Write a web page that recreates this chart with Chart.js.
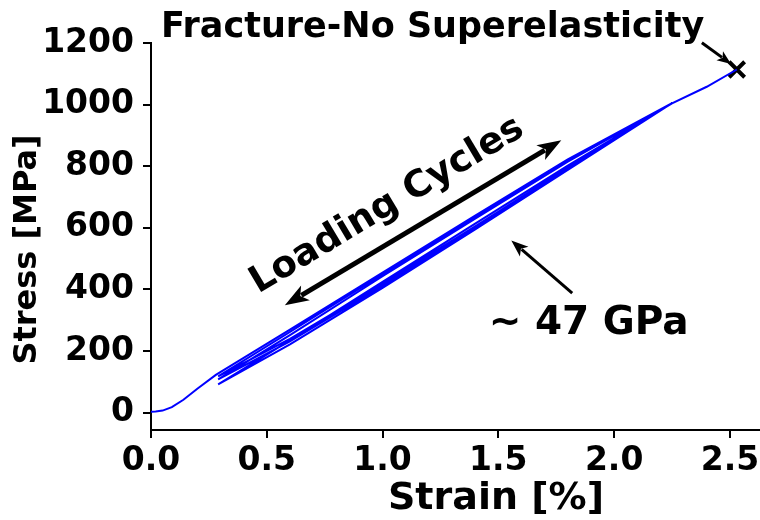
<!DOCTYPE html>
<html>
<head>
<meta charset="utf-8">
<script src="https://cdn.jsdelivr.net/npm/chart.js@4"></script>
<style>
  html, body { margin: 0; padding: 0; background: #fff; overflow: hidden; }
  #wrap { position: relative; width: 760px; height: 520px; }
  canvas { display: block; }
</style>
</head>
<body>
<div id="wrap"><canvas id="myChart"></canvas></div>
<script>
"use strict";

// cyclic loading path (strain %, stress MPa)
const strain = [0, 0.02, 0.05, 0.09, 0.14, 0.2, 0.28, 0.6, 1.0, 1.4, 1.8, 2.25,
    1.8, 1.4, 1.0, 0.6, 0.29,
    0.6, 1.0, 1.4, 1.8, 2.25,
    1.8, 1.4, 1.0, 0.6, 0.29,
    0.6, 1.0, 1.4, 1.8, 2.25,
    1.8, 1.4, 1.0, 0.6, 0.29,
    0.6, 1.0, 1.4, 1.8, 2.25, 2.4, 2.53];
const stress = [3, 4, 7, 18, 42, 78, 123, 270, 455, 640, 822, 1005,
    795, 605, 418, 240, 118,
    262, 450, 636, 818, 1005,
    792, 600, 412, 232, 108,
    252, 443, 630, 815, 1005,
    788, 595, 405, 222, 92,
    235, 425, 614, 802, 1004, 1058, 1114];
const fractureStrain = [2.53];
const fractureStress = [1114];
const xTicks = [0, 0.5, 1.0, 1.5, 2.0, 2.5];
const yTicks = [0, 200, 400, 600, 800, 1000, 1200];

const FONT = 'DejaVu Sans';

function drawArrow(ctx, x1, y1, x2, y2, lw, hl, hw, both) {
    let a = Math.atan2(y2 - y1, x2 - x1);
    ctx.save();
    ctx.strokeStyle = '#000';
    ctx.fillStyle = '#000';
    ctx.lineWidth = lw;
    ctx.beginPath();
    let sx = both ? x1 + Math.cos(a) * hl * 0.8 : x1;
    let sy = both ? y1 + Math.sin(a) * hl * 0.8 : y1;
    ctx.moveTo(sx, sy);
    ctx.lineTo(x2 - Math.cos(a) * hl * 0.8, y2 - Math.sin(a) * hl * 0.8);
    ctx.stroke();
    let head = (px, py, ang) => {
        ctx.beginPath();
        ctx.moveTo(px, py);
        ctx.lineTo(px - Math.cos(ang) * hl + Math.sin(ang) * hw / 2, py - Math.sin(ang) * hl - Math.cos(ang) * hw / 2);
        ctx.lineTo(px - Math.cos(ang) * hl * 0.75, py - Math.sin(ang) * hl * 0.75);
        ctx.lineTo(px - Math.cos(ang) * hl - Math.sin(ang) * hw / 2, py - Math.sin(ang) * hl + Math.cos(ang) * hw / 2);
        ctx.closePath();
        ctx.fill();
    };
    head(x2, y2, a);
    if (both) head(x1, y1, a + Math.PI);
    ctx.restore();
}

// let the x axis run to the right edge of the canvas like the original
const stretchRight = {
    id: 'stretchRight',
    afterLayout(chart) {
        const xs = chart.scales.x;
        chart.chartArea.right = chart.width;
        chart.chartArea.width = chart.chartArea.right - chart.chartArea.left;
        xs.right = chart.width;
        xs.width = xs.right - xs.left;
        xs.configure();
    }
};

const annotations = {
    id: 'annotations',
    afterDatasetsDraw(chart) {
        const ctx = chart.ctx;
        const x = chart.scales.x, y = chart.scales.y;
        ctx.save();
        ctx.fillStyle = '#000';
        ctx.textAlign = 'center';
        ctx.textBaseline = 'middle';

        // axis titles (placed off-centre like the original)
        ctx.font = 'bold 38px "' + FONT + '"';
        ctx.fillText('Strain [%]', x.getPixelForValue(1.49), 499);
        ctx.save();
        ctx.translate(28, y.getPixelForValue(530));
        ctx.rotate(-Math.PI / 2);
        ctx.font = 'bold 32px "' + FONT + '"';
        ctx.fillText('Stress [MPa]', 0, 0);
        ctx.restore();

        // loading cycles double arrow + rotated label
        let ax1 = x.getPixelForValue(0.578), ay1 = y.getPixelForValue(349);
        let ax2 = x.getPixelForValue(1.772), ay2 = y.getPixelForValue(884);
        drawArrow(ctx, ax1, ay1, ax2, ay2, 5, 24, 17, true);
        let ang = Math.atan2(ay2 - ay1, ax2 - ax1);
        ctx.save();
        ctx.translate(x.getPixelForValue(1.02), y.getPixelForValue(672));
        ctx.rotate(ang);
        ctx.font = 'bold 37px "' + FONT + '"';
        ctx.fillText('Loading Cycles', 0, 0);
        ctx.restore();

        // modulus arrow + label
        drawArrow(ctx, x.getPixelForValue(1.819), y.getPixelForValue(388),
            x.getPixelForValue(1.556), y.getPixelForValue(559), 3, 17, 13, false);
        ctx.font = 'bold 39px "' + FONT + '"';
        ctx.fillText('~ 47 GPa', x.getPixelForValue(1.89), y.getPixelForValue(290));

        // fracture label + arrow
        ctx.font = 'bold 35px "' + FONT + '"';
        ctx.fillText('Fracture-No Superelasticity', x.getPixelForValue(1.216), y.getPixelForValue(1250));
        drawArrow(ctx, x.getPixelForValue(2.379), y.getPixelForValue(1201),
            x.getPixelForValue(2.505), y.getPixelForValue(1132), 3, 14, 11, false);
        ctx.restore();
    }
};

let myChart = document.getElementById('myChart').getContext('2d');

let stressChart = new Chart(myChart, {
    type: 'scatter',
    data: {
        datasets: [{
            label: 'Cycles',
            data: strain.map((s, i) => ({ x: s, y: stress[i] })),
            showLine: true,
            borderColor: '#0000ff',
            borderWidth: 2,
            pointRadius: 0,
            tension: 0,
            fill: false
        }, {
            label: 'Fracture',
            data: fractureStrain.map((s, i) => ({ x: s, y: fractureStress[i] })),
            pointStyle: 'crossRot',
            pointRadius: 11,
            borderColor: '#000',
            borderWidth: 4,
            clip: false
        }]
    },
    options: {
        responsive: true,
        maintainAspectRatio: false,
        animation: false,
        layout: { padding: { top: 43, right: 0, left: 0, bottom: 0 } },
        plugins: { legend: { display: false }, tooltip: { enabled: false } },
        scales: {
            x: {
                type: 'linear',
                min: 0,
                max: 2.63,
                afterBuildTicks: s => { s.ticks = xTicks.map(v => ({ value: v })); },
                afterFit: s => { s.height = 90; },
                grid: { drawOnChartArea: false, drawTicks: true, tickLength: 8, color: '#000', lineWidth: 2 },
                border: { display: true, color: '#000', width: 2 },
                ticks: {
                    color: '#000',
                    font: { family: FONT, size: 33, weight: 'bold' },
                    padding: 4,
                    maxRotation: 0,
                    autoSkip: false,
                    callback: v => v.toFixed(1)
                }
            },
            y: {
                type: 'linear',
                min: -56,
                max: 1200,
                afterBuildTicks: s => { s.ticks = yTicks.map(v => ({ value: v })); },
                afterFit: s => { s.width = 151; },
                grid: { drawOnChartArea: false, drawTicks: true, tickLength: 8, color: '#000', lineWidth: 2 },
                border: { display: true, color: '#000', width: 2 },
                ticks: {
                    color: '#000',
                    font: { family: FONT, size: 33, weight: 'bold' },
                    padding: 9,
                    autoSkip: false,
                    callback: v => String(v)
                }
            }
        }
    },
    plugins: [stretchRight, annotations]
});
</script>
</body>
</html>
